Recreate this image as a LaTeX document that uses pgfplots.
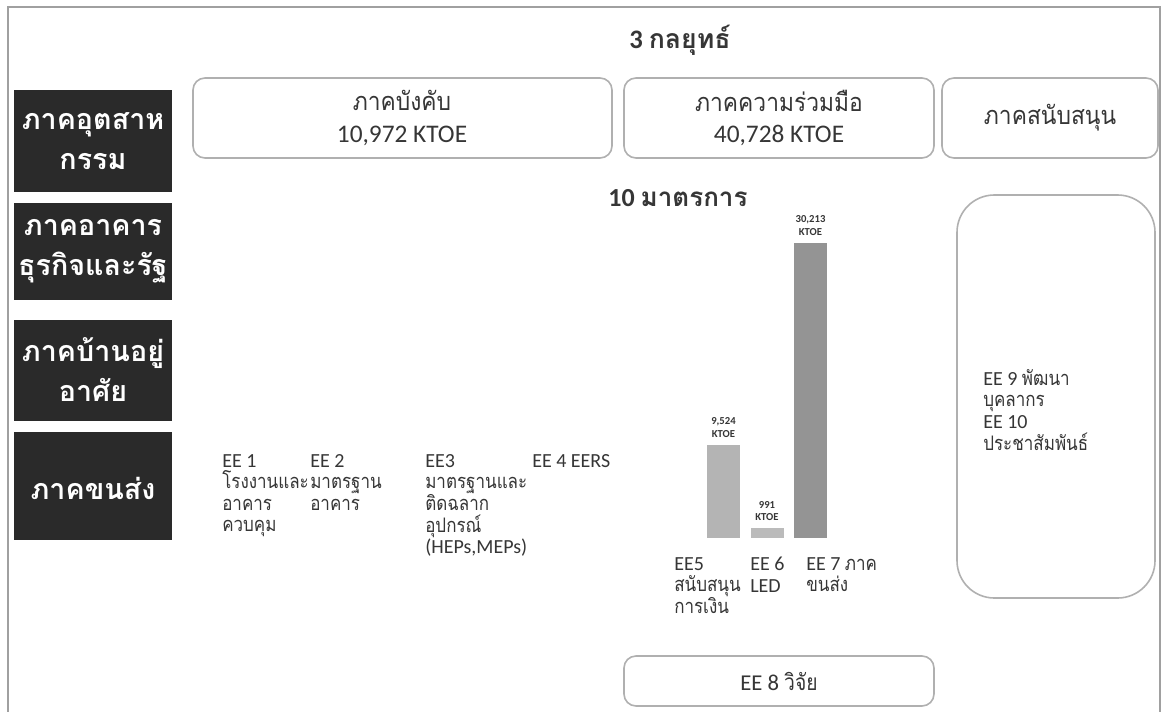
\documentclass[border=0pt]{standalone}
\usepackage{pgfplots}
\pgfplotsset{compat=1.18}
\usepackage{fontspec}
\setmainfont{Carlito}
\newfontfamily\thai[Script=Thai, FakeStretch=0.85]{Loma}
\newfontfamily\thaim[Script=Thai, FakeStretch=0.9]{Loma}
\newfontfamily\thaib[Script=Thai]{Loma}
\definecolor{darkbox}{HTML}{2A2A2A}
\definecolor{frame}{HTML}{A0A0A0}
\definecolor{boxline}{HTML}{B0B0B0}
\definecolor{txt}{HTML}{363636}
\definecolor{barA}{HTML}{B4B4B4}
\definecolor{barB}{HTML}{BBBBBB}
\definecolor{barC}{HTML}{949494}
\begin{document}
\begin{tikzpicture}
\path[use as bounding box] (0pt,0pt) rectangle (873pt,-533.25pt);
\begin{scope}[x=0.75pt,y=-0.75pt]
\fill[white] (0,0) rectangle (1164,711);
\draw[frame, line width=1pt] (8,720) -- (8,7) -- (1160,7) -- (1160,720);
% title
\node[txt, font=\bfseries\fontsize{20}{22}\selectfont] at (680,40) {3 {\thaib กลยุทธ์}};
% strategy boxes
\draw[boxline, line width=1.2pt, rounded corners=9pt] (193,78) rectangle (612,158);
\draw[boxline, line width=1.2pt, rounded corners=9pt] (624,78) rectangle (934,158);
\draw[boxline, line width=1.2pt, rounded corners=9pt] (942,78) rectangle (1158,158);
\node[txt, align=center, font=\fontsize{19}{23.5}\selectfont] at (402,118) {{\thaim ภาคบังคับ}\\10,972 KTOE};
\node[txt, align=center, font=\fontsize{19}{23.5}\selectfont] at (779,118) {{\thaim ภาคความร่วมมือ}\\40,728 KTOE};
\node[txt, align=center, font=\thaim\fontsize{19}{23}\selectfont] at (1050,118) {ภาคสนับสนุน};
% dark sector boxes
\fill[darkbox] (14,90) rectangle (172,192);
\fill[darkbox] (14,203) rectangle (172,300);
\fill[darkbox] (14,320) rectangle (172,421);
\fill[darkbox] (14,432) rectangle (172,540);
\tikzset{sector/.style={white, align=center, font=\thaib\bfseries\fontsize{21.5}{30}\selectfont}}
\node[sector] at (93,141) {ภาคอุตสาห\\กรรม};
\node[sector] at (93,251) {ภาคอาคาร\\ธุรกิจและรัฐ};
\node[sector] at (93,370) {ภาคบ้านอยู่\\อาศัย};
\node[sector] at (93,488) {ภาคขนส่ง};
% measures heading
\node[txt, font=\bfseries\fontsize{19.5}{22}\selectfont] at (678,198) {10 {\thaib มาตรการ}};
% EE labels
\tikzset{ee/.style={txt, anchor=north west, inner sep=0pt, align=left, font=\fontsize{15}{16.2}\selectfont}}
\node[ee] at (222,454) {EE 1\\{\thai โรงงานและ}\\{\thai อาคาร}\\{\thai ควบคุม}};
\node[ee] at (310,454) {EE 2\\{\thai มาตรฐาน}\\{\thai อาคาร}};
\node[ee] at (425,454) {EE3\\{\thai มาตรฐานและ}\\{\thai ติดฉลาก}\\{\thai อุปกรณ์}\\(HEPs,MEPs)};
\node[ee] at (532,454) {EE 4 EERS};
\node[ee] at (674,557) {EE5\\{\thai สนับสนุน}\\{\thai การเงิน}};
\node[ee] at (750,557) {EE 6\\LED};
\node[ee] at (806,557) {EE 7 {\thai ภาค}\\{\thai ขนส่ง}};
% EE 8 box
\draw[boxline, line width=1.2pt, rounded corners=9pt] (624,656) rectangle (934,706);
\node[txt, font=\fontsize{17}{20}\selectfont] at (779,681) {EE 8 {\thai วิจัย}};
% EE 9/10 box
\draw[boxline, line width=1.2pt, rounded corners=28pt] (957,195) rectangle (1155,598);
\node[ee] at (983,369) {EE 9 {\thai พัฒนา}\\{\thai บุคลากร}\\EE 10\\{\thai ประชาสัมพันธ์}};
\end{scope}
\begin{axis}[
  at={(526.3pt,-403.5pt)}, anchor=south west,
  scale only axis, width=97.9pt, height=234.3pt,
  xmin=-0.5, xmax=2.5, ymin=0, ymax=32000,
  hide axis, clip=false,
  ybar, bar width=24.75pt, bar shift=0pt,
  /pgf/number format/assume math mode=true,
  nodes near coords={\pgfmathprintnumber[fixed,precision=0,1000 sep={,}]{\pgfplotspointmeta}\\KTOE},
  every node near coord/.append style={align=center, font=\bfseries\fontsize{8}{9.5}\selectfont, text=txt, yshift=2pt},
]
\addplot[fill=barA, draw=none] coordinates {(0,9524)};
\addplot[fill=barB, draw=none] coordinates {(1,991)};
\addplot[fill=barC, draw=none] coordinates {(2,30213)};
\end{axis}
\end{tikzpicture}
\end{document}
